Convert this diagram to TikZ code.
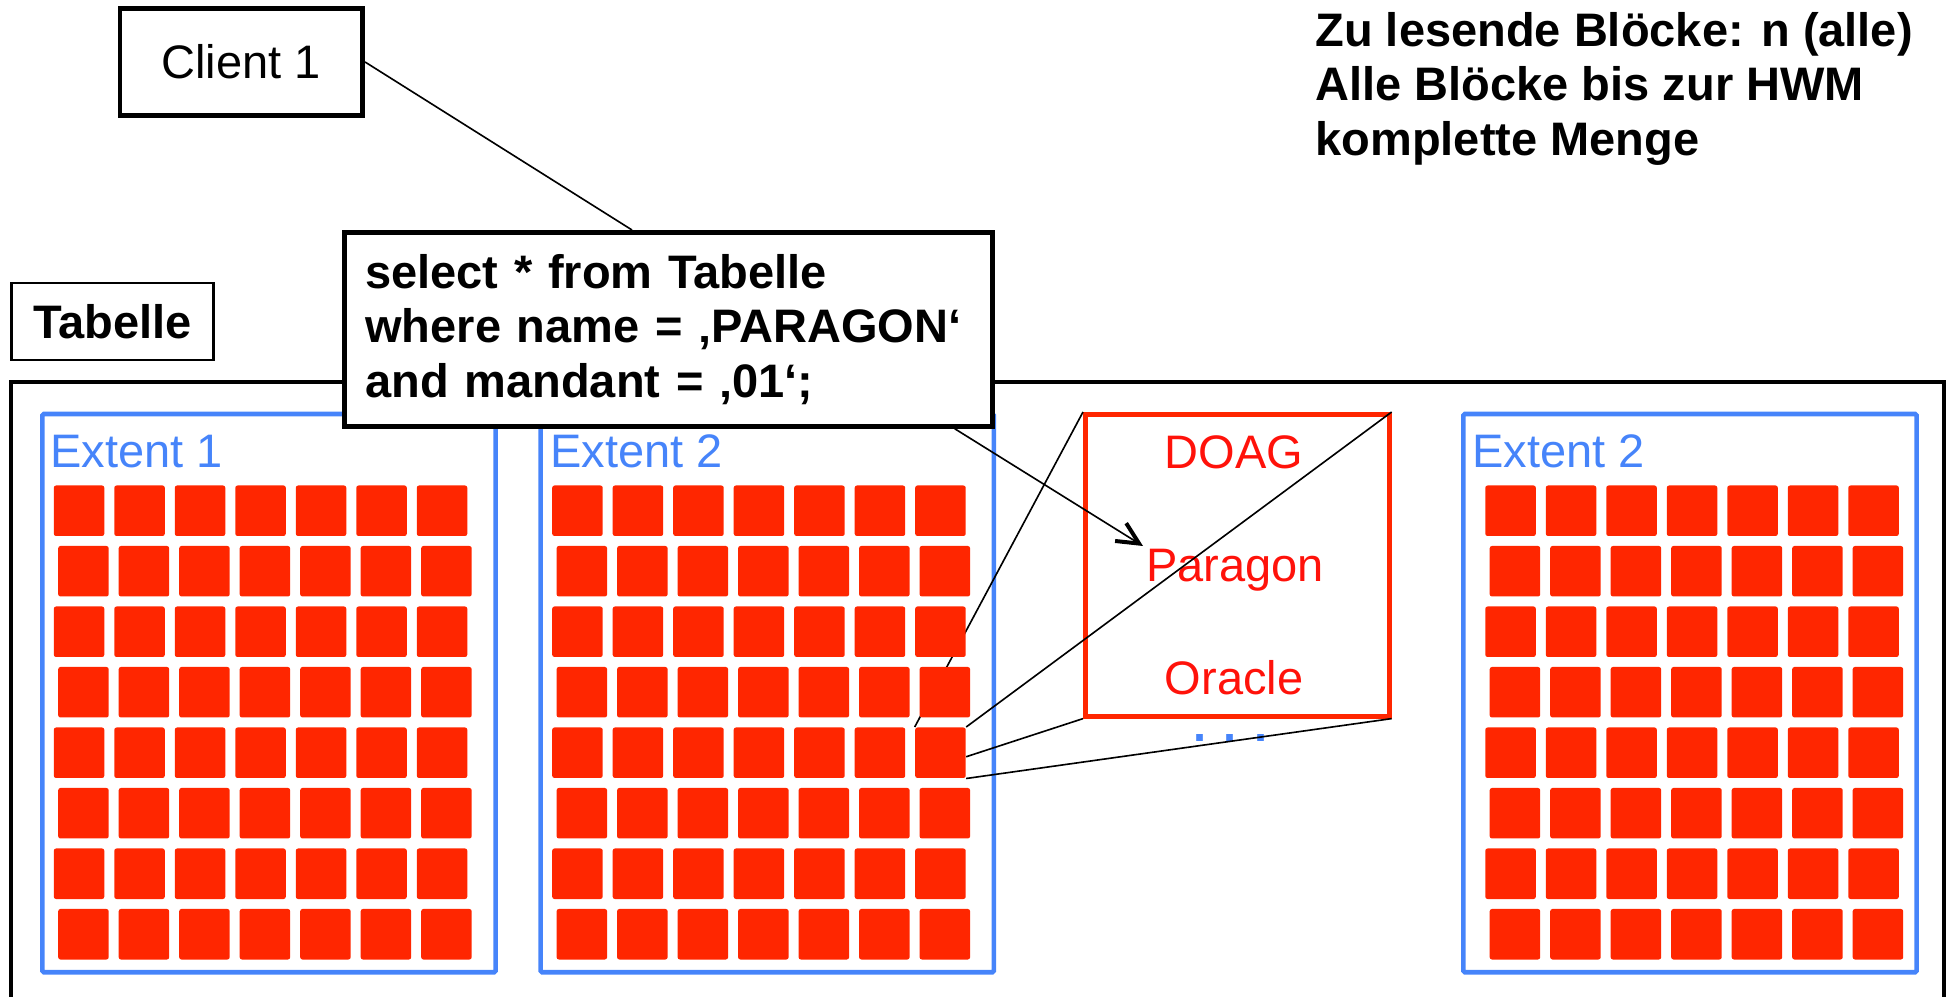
\documentclass[tikz,border=0pt]{standalone}
\usepackage{fontspec}
\setmainfont{Liberation Sans}
\usetikzlibrary{arrows.meta,calc}
\definecolor{blockred}{RGB}{255,38,0}
\definecolor{extblue}{RGB}{70,132,250}
\definecolor{txtred}{RGB}{255,18,10}
\pgfdeclarelayer{bg}
\pgfdeclarelayer{lines}
\pgfsetlayers{bg,lines,main}
\begin{document}
\begin{tikzpicture}[x=0.4pt,y=-0.4pt,
  txt/.style={font=\fontsize{18.8}{21.7}\selectfont},
  btxt/.style={font=\bfseries\fontsize{18.8}{21.7}\selectfont},
  thickbox/.style={draw, line width=1.9pt, inner sep=0pt},
  thinline/.style={line width=0.65pt},
  extentbox/.style={draw=extblue, line width=1.85pt, rounded corners=0.6pt,
    minimum width=181.3pt, minimum height=223.3pt, anchor=north west, inner sep=0pt},
  exttext/.style={txt, text=extblue, anchor=base west, inner sep=0pt},
  blockcell/.style={fill=blockred, rounded corners=0.9pt, minimum size=20.2pt,
    inner sep=0pt, anchor=north west},
  redtext/.style={txt, text=txtred, anchor=base, inner sep=0pt}]
\useasboundingbox (0,0) rectangle (1954,997);

\begin{pgfonlayer}{bg}
  % outer table frame
  \draw[line width=1.9pt] (11,1010) -- (11,382) -- (1944,382) -- (1944,1010);
  % extents
  \node[extentbox] (ext1) at (40,411.7) {};
  \node[extentbox] (ext2) at (538.3,411.7) {};
  \node[extentbox] (ext3) at (1461,411.7) {};
  \node[exttext] (ext1label) at (50,468) {Extent 1};
  \node[exttext] (ext2label) at (550,468) {Extent 2};
  \node[exttext] (ext3label) at (1472,468) {Extent 2};
  % zoomed block
  \node[draw=blockred, line width=1.85pt, minimum width=121.6pt, minimum height=120.8pt,
    anchor=north west, inner sep=0pt] (rec) at (1083,412) {};
  \node[redtext] (doag) at (1234,468.3) {DOAG};
  \node[redtext] (paragon) at (1235,581.7) {Paragon};
  \node[redtext] (oracle) at (1234,695) {Oracle};
  \node[btxt, text=extblue, anchor=base west, inner sep=0pt] (dots) at (1193,741.7) {. . .};
\end{pgfonlayer}

% blocks
\foreach \ex/\bx in {1/53.3, 2/551.7, 3/1484.8} {
  \foreach \r in {1,...,8} {
    \foreach \c in {1,...,7} {
      \pgfmathsetmacro\xx{\bx + 60.5*(\c-1) + mod(\r+1,2)*4.4}
      \pgfmathsetmacro\yy{485 + 60.5*(\r-1)}
      \node[blockcell] (b\ex-\r-\c) at (\xx,\yy) {};
    }
  }
}

\begin{pgfonlayer}{lines}
  \draw[thinline] (b2-5-7.north west) -- (rec.north west);
  \draw[thinline] (b2-5-7.north east) -- (rec.north east);
  \draw[thinline] ($(b2-5-7.east)+(0,4)$) -- (rec.south west);
  \draw[thinline] (b2-5-7.south east) -- (rec.south east);
\end{pgfonlayer}

% labels and boxes above
\node[thickbox, txt, minimum width=97.1pt, minimum height=43pt] (client) at (241.3,62) {Client 1};
\node[draw, line width=0.9pt, btxt, minimum width=80.8pt, minimum height=31pt, inner sep=0pt] (tab) at (112.5,321.5) {Tabelle};
\node[thickbox, btxt, fill=white, anchor=north west, align=left,
  text width=242.4pt, inner xsep=8.4pt, inner ysep=0pt,
  minimum width=259.2pt, minimum height=77.6pt] (sql) at (342,230)
  {select * from Tabelle\\where name = ‚PARAGON‘\\and mandant = ‚01‘;};
\node[btxt, anchor=north west, align=left, inner sep=0pt] (info) at (1315,12.2)
  {Zu lesende Blöcke: n (alle)\\Alle Blöcke bis zur HWM\\komplette Menge};

\draw[thinline] (client.east) -- ($(sql.north west)+(290,0)$);
\coordinate (tip) at (1143,546);
\draw[thinline, -{Straight Barb[length=8.7pt,width=8.4pt,line width=1.6pt]}]
  ($(sql.south east)+(-40,0)$) -- (tip);
\end{tikzpicture}
\end{document}
